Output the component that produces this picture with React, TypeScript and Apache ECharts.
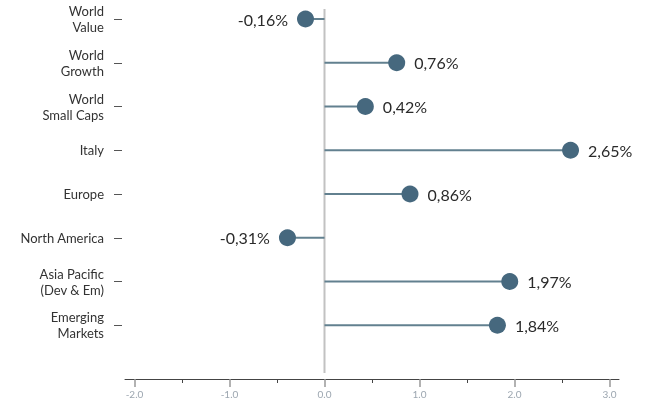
import React, { useEffect, useRef } from "react";
import * as echarts from "echarts";

const categories = [
  "World\nValue",
  "World\nGrowth",
  "World\nSmall Caps",
  "Italy",
  "Europe",
  "North America",
  "Asia Pacific\n(Dev & Em)",
  "Emerging\nMarkets",
];
// dot positions
const values = [-0.2, 0.76, 0.43, 2.59, 0.9, -0.39, 1.95, 1.82];
// printed value labels
const valueLabels = ["-0,16%", "0,76%", "0,42%", "2,65%", "0,86%", "-0,31%", "1,97%", "1,84%"];
const majorTicks = [-2, -1, 0, 1, 2, 3];
const minorTicks = [-1.5, -0.5, 0.5, 1.5, 2.5];

const FONT = "Lato";

export default function App() {
  const ref = useRef<HTMLDivElement>(null);
  useEffect(() => {
    if (!ref.current) return;
    const chart = echarts.init(ref.current, null, { renderer: "svg" });
    chart.setOption({
      animation: false,
      grid: { left: 125, right: 29, top: 19, height: 306.25, containLabel: false },
      xAxis: [
        {
          type: "value",
          min: -2.1,
          max: 3.1,
          position: "bottom",
          offset: 53.75,
          splitLine: { show: false },
          axisLine: { show: true, onZero: false, lineStyle: { color: "#444", width: 1 } },
          axisTick: {
            show: true,
            customValues: majorTicks,
            length: 8,
            lineStyle: { color: "#999", width: 1.5 },
          },
          axisLabel: {
            customValues: majorTicks,
            formatter: (v: number) => v.toFixed(1),
            color: "#9ca6b0",
            fontSize: 10,
            fontFamily: FONT,
            margin: 10,
          },
        },
        {
          type: "value",
          min: -2.1,
          max: 3.1,
          position: "top",
          offset: -360,
          splitLine: { show: false },
          axisLine: { show: false, onZero: false },
          axisTick: {
            show: true,
            inside: true,
            customValues: minorTicks,
            length: 4,
            lineStyle: { color: "#444", width: 1 },
          },
          axisLabel: { show: false },
        },
      ],
      yAxis: {
        type: "category",
        data: categories,
        inverse: true,
        boundaryGap: false,
        position: "left",
        offset: 3,
        axisLine: { show: false, onZero: false },
        axisTick: { show: true, length: 8, lineStyle: { color: "#555", width: 1 } },
        axisLabel: {
          color: "#333",
          fontSize: 13,
          fontFamily: FONT,
          lineHeight: 16,
          margin: 18,
          align: "right",
        },
        splitLine: { show: false },
      },
      series: [
        {
          type: "bar",
          data: values,
          barWidth: 2,
          itemStyle: { color: "#62808f" },
          silent: true,
          z: 2,
        },
        {
          type: "scatter",
          data: values.map((v) => ({
            value: v,
            label: { position: v < 0 ? "left" : "right" },
          })),
          symbol: "circle",
          symbolSize: 17,
          itemStyle: { color: "#46687e", opacity: 1 },
          label: {
            show: true,
            distance: 9,
            formatter: (p: any) => valueLabels[p.dataIndex],
            color: "#2a2a2a",
            fontSize: 16,
            fontFamily: FONT,
          },
          z: 3,
        },
      ],
    });
    const x0 = chart.convertToPixel({ xAxisIndex: 0 }, 0) as number;
    chart.setOption({
      graphic: [
        {
          type: "line",
          z: 1,
          shape: { x1: x0, y1: 9, x2: x0, y2: 373 },
          style: { stroke: "#c2c2c2", lineWidth: 2 },
          silent: true,
        },
      ],
    });
    return () => chart.dispose();
  }, []);
  return (
    <div
      ref={ref}
      style={{ position: "fixed", left: 0, top: 0, width: 648, height: 416 }}
    />
  );
}
